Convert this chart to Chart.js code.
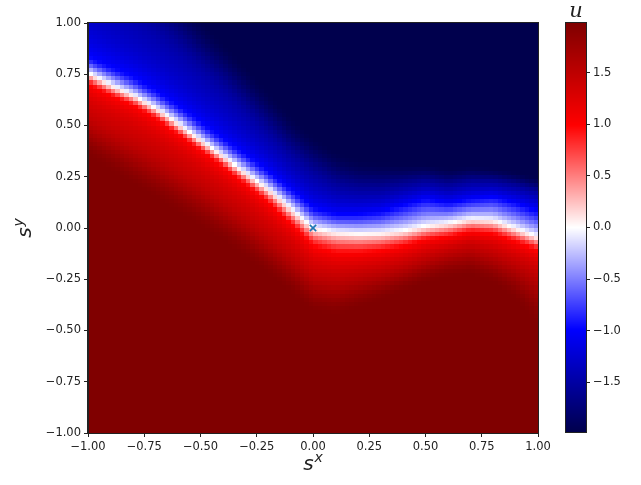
<!DOCTYPE html>
<html><head><meta charset="utf-8">
<script src="https://cdn.jsdelivr.net/npm/chart.js@4/dist/chart.umd.min.js"></script>
<style>
html,body{margin:0;padding:0;background:#fff;}
#wrap{position:relative;width:641px;height:485px;overflow:hidden;}
#main{position:absolute;left:0;top:0;}
#cbar{position:absolute;left:540px;top:0;}
</style></head><body>
<div id="wrap"><canvas id="main" width="560" height="485"></canvas><canvas id="cbar" width="101" height="485"></canvas></div>
<script>
// ---- data ----
// columns of s^x where the contour levels were read
const columnsX = [-1.0,-0.9,-0.8,-0.7,-0.6,-0.5,-0.4,-0.3,-0.2,-0.1,0.0,0.1,0.2,0.3,0.4,0.5,0.6,0.7,0.8,0.9,1.0];
// contour levels of u, from dark red (bottom) to navy (top)
const levelsU = [1.98, 1.5, 0.99, 0.0, -0.99, -1.5, -1.98];
// s^y of each contour per column
const contourDark  = [0.34,0.27,0.20,0.13,0.06,-0.01,-0.08,-0.16,-0.24,-0.33,-0.42,-0.44,-0.40,-0.36,-0.32,-0.28,-0.25,-0.24,-0.28,-0.36,-0.50];
const contourRed2  = [0.52,0.46,0.40,0.34,0.27,0.20,0.12,0.04,-0.05,-0.14,-0.24,-0.26,-0.24,-0.22,-0.19,-0.15,-0.12,-0.10,-0.13,-0.18,-0.24];
const contourRed   = [0.70,0.645,0.595,0.53,0.455,0.375,0.295,0.21,0.12,0.02,-0.09,-0.12,-0.12,-0.11,-0.09,-0.06,-0.045,-0.02,-0.03,-0.07,-0.11];
const contourWhite = [0.755,0.70,0.65,0.585,0.51,0.43,0.35,0.27,0.19,0.095,0.0,-0.022,-0.028,-0.025,-0.012,0.012,0.025,0.045,0.040,0.000,-0.045];
const contourBlue  = [0.84,0.79,0.74,0.675,0.60,0.52,0.44,0.36,0.28,0.19,0.10,0.07,0.07,0.08,0.11,0.14,0.12,0.14,0.15,0.12,0.08];
const contourBlue2 = [1.25,1.15,1.06,0.97,0.88,0.78,0.68,0.57,0.46,0.35,0.26,0.20,0.18,0.18,0.20,0.22,0.20,0.22,0.22,0.20,0.17];
const contourNavy  = [1.70,1.55,1.42,1.28,1.15,1.03,0.92,0.80,0.68,0.56,0.46,0.38,0.34,0.33,0.32,0.32,0.30,0.31,0.30,0.28,0.25];
// marked point
const markerX = [0.0];
const markerY = [0.0];
// ticks
const xTicks = [-1,-0.75,-0.5,-0.25,0,0.25,0.5,0.75,1];
const xTickLabels = ['\u22121.00','\u22120.75','\u22120.50','\u22120.25','0.00','0.25','0.50','0.75','1.00'];
const yTicks = [-1,-0.75,-0.5,-0.25,0,0.25,0.5,0.75,1];
const yTickLabels = ['\u22121.00','\u22120.75','\u22120.50','\u22120.25','0.00','0.25','0.50','0.75','1.00'];
const cbTicks = [-1.5,-1,-0.5,0,0.5,1,1.5];
const cbTickLabels = ['\u22121.5','\u22121.0','\u22120.5','0.0','0.5','1.0','1.5'];
const uMin = -1.98, uMax = 1.98;
const gridN = 100;

// ---- helpers ----
function seismic(u){
  let t = (u - uMin) / (uMax - uMin);
  t = Math.max(0, Math.min(1, t));
  const st = [[0,0,0,76.5],[0.25,0,0,255],[0.5,255,255,255],[0.75,255,0,0],[1,127.5,0,0]];
  for (let k=0;k<st.length-1;k++){
    if (t <= st[k+1][0]){
      const f = (t - st[k][0])/(st[k+1][0]-st[k][0]);
      const r = st[k][1]+(st[k+1][1]-st[k][1])*f;
      const g = st[k][2]+(st[k+1][2]-st[k][2])*f;
      const b = st[k][3]+(st[k+1][3]-st[k][3])*f;
      return 'rgb('+Math.round(r)+','+Math.round(g)+','+Math.round(b)+')';
    }
  }
  return 'rgb(128,0,0)';
}
function colAt(arr, x){
  const n = columnsX.length;
  if (x <= columnsX[0]) return arr[0];
  if (x >= columnsX[n-1]) return arr[n-1];
  for (let k=0;k<n-1;k++){
    if (x <= columnsX[k+1]){
      const f = (x-columnsX[k])/(columnsX[k+1]-columnsX[k]);
      return arr[k]+(arr[k+1]-arr[k])*f;
    }
  }
  return arr[n-1];
}
// monotone (PCHIP) curve through the contour crossings of one column
function pchip(ys, us, y){
  const n = ys.length;
  if (y <= ys[0]) return us[0];
  if (y >= ys[n-1]) return us[n-1];
  const h = [], d = [];
  for (let k=0;k<n-1;k++){ h.push(ys[k+1]-ys[k]); d.push((us[k+1]-us[k])/h[k]); }
  const m = new Array(n).fill(0);
  for (let k=1;k<n-1;k++){
    if (d[k-1]*d[k] > 0){
      const w1 = 2*h[k]+h[k-1], w2 = h[k]+2*h[k-1];
      m[k] = (w1+w2)/(w1/d[k-1]+w2/d[k]);
    }
  }
  let k = 0;
  while (k < n-2 && y > ys[k+1]) k++;
  const t = (y-ys[k])/h[k];
  const h00 = 2*t*t*t-3*t*t+1, h10 = t*t*t-2*t*t+t, h01 = -2*t*t*t+3*t*t, h11 = t*t*t-t*t;
  return h00*us[k] + h10*h[k]*m[k] + h01*us[k+1] + h11*h[k]*m[k+1];
}
const contourSets = [contourDark, contourRed2, contourRed, contourWhite, contourBlue, contourBlue2, contourNavy];
function fieldAt(x, y){
  const ys = contourSets.map(a=>colAt(a,x));
  return pchip(ys, levelsU, y);
}

const tickFont = {family:'"DejaVu Sans"', size:11.5};
const inkColor = '#222';

const heatmapPlugin = {
  id:'heatmap',
  beforeDraw(chart){
    const ctx = chart.ctx, xs = chart.scales.x, ys = chart.scales.y;
    ctx.save();
    for (let i=0;i<gridN;i++){
      const x0 = -1 + i*2/gridN, x1 = x0 + 2/gridN, xc = (x0+x1)/2;
      const p0 = Math.round(xs.getPixelForValue(x0)), p1 = Math.round(xs.getPixelForValue(x1));
      for (let j=0;j<gridN;j++){
        const y0 = -1 + j*2/gridN, y1 = y0 + 2/gridN, yc = (y0+y1)/2;
        const q0 = Math.round(ys.getPixelForValue(y0)), q1 = Math.round(ys.getPixelForValue(y1));
        ctx.fillStyle = seismic(fieldAt(xc, yc));
        ctx.fillRect(p0, q1, p1-p0, q0-q1);
      }
    }
    ctx.restore();
  },
  afterDraw(chart){
    const ctx = chart.ctx, a = chart.chartArea;
    ctx.save();
    ctx.strokeStyle = inkColor; ctx.lineWidth = 1;
    ctx.strokeRect(Math.round(a.left)-0.5, Math.round(a.top)-0.5, Math.round(a.right-a.left)+1, Math.round(a.bottom-a.top)+1);
    const baseFont = 'italic 20px "DejaVu Sans"', supFont = 'italic 14px "DejaVu Sans"';
    function mathLabel(base, sup){
      ctx.font = baseFont; const wb = ctx.measureText(base).width;
      ctx.font = supFont; const ws = ctx.measureText(sup).width;
      const tot = wb + ws + 1;
      ctx.fillStyle = inkColor; ctx.textBaseline = 'alphabetic'; ctx.textAlign = 'left';
      ctx.font = baseFont; ctx.fillText(base, -tot/2, 0);
      ctx.font = supFont; ctx.fillText(sup, -tot/2 + wb + 1, -8);
    }
    ctx.save(); ctx.translate((a.left+a.right)/2, 470); mathLabel('s','x'); ctx.restore();
    ctx.save(); ctx.translate(31, (a.top+a.bottom)/2); ctx.rotate(-Math.PI/2); mathLabel('s','y'); ctx.restore();
    ctx.restore();
  }
};

function axisCommon(ticksArr, labelsArr, fitFn){
  return {
    type:'linear',
    afterBuildTicks(s){ s.ticks = ticksArr.map(v=>({value:v})); },
    afterFit: fitFn,
    ticks:{ font:tickFont, color:inkColor, padding:3, autoSkip:false, maxRotation:0, minRotation:0,
            callback:(v,i)=>labelsArr[i] },
    grid:{ display:true, drawOnChartArea:false, drawTicks:true, tickLength:4, tickColor:inkColor, color:inkColor },
    border:{ display:true, color:inkColor, width:1 }
  };
}

const xAxis = axisCommon(xTicks, xTickLabels, s=>{ s.height = 52; });
xAxis.min = -1; xAxis.max = 1;
const yAxis = axisCommon(yTicks, yTickLabels, s=>{ s.width = 88; });
yAxis.min = -1; yAxis.max = 1;

new Chart(document.getElementById('main'), {
  type:'scatter',
  data:{ datasets:[{ data: markerX.map((x,i)=>({x:x, y:markerY[i]})),
    pointStyle:'crossRot', radius:4.5, borderColor:'#1f77b4', backgroundColor:'#1f77b4', borderWidth:1.6 }]},
  options:{
    responsive:false, animation:false, devicePixelRatio:1,
    layout:{ padding:{ left:0, top:23, right:22, bottom:0 } },
    plugins:{ legend:{display:false}, tooltip:{enabled:false} },
    scales:{ x:xAxis, y:yAxis }
  },
  plugins:[heatmapPlugin]
});

const cbarPlugin = {
  id:'cbarGrad',
  beforeDraw(chart){
    const ctx = chart.ctx, ys = chart.scales.y, a = chart.chartArea;
    ctx.save();
    const top = Math.round(a.top), bot = Math.round(a.bottom);
    for (let py=top; py<bot; py++){
      ctx.fillStyle = seismic(ys.getValueForPixel(py+0.5));
      ctx.fillRect(Math.round(a.left), py, Math.round(a.right)-Math.round(a.left), 1);
    }
    ctx.restore();
  },
  afterDraw(chart){
    const ctx = chart.ctx, a = chart.chartArea;
    ctx.save();
    ctx.strokeStyle = inkColor; ctx.lineWidth = 1;
    ctx.strokeRect(Math.round(a.left)-0.5, Math.round(a.top)-0.5, Math.round(a.right-a.left)+1, Math.round(a.bottom-a.top)+1);
    ctx.fillStyle = inkColor; ctx.font = 'italic 21px "DejaVu Serif"';
    ctx.textAlign = 'center'; ctx.textBaseline = 'alphabetic';
    ctx.fillText('u', (a.left+a.right)/2, 17);
    ctx.restore();
  }
};

const cbAxis = axisCommon(cbTicks, cbTickLabels, s=>{ s.width = 55; });
cbAxis.min = uMin; cbAxis.max = uMax; cbAxis.position = 'right';

new Chart(document.getElementById('cbar'), {
  type:'scatter',
  data:{ datasets:[{ data:[] }]},
  options:{
    responsive:false, animation:false, devicePixelRatio:1,
    layout:{ padding:{ left:26, top:23, right:0, bottom:53 } },
    plugins:{ legend:{display:false}, tooltip:{enabled:false} },
    scales:{ x:{ display:false, min:0, max:1 }, y:cbAxis }
  },
  plugins:[cbarPlugin]
});
</script>
</body></html>
